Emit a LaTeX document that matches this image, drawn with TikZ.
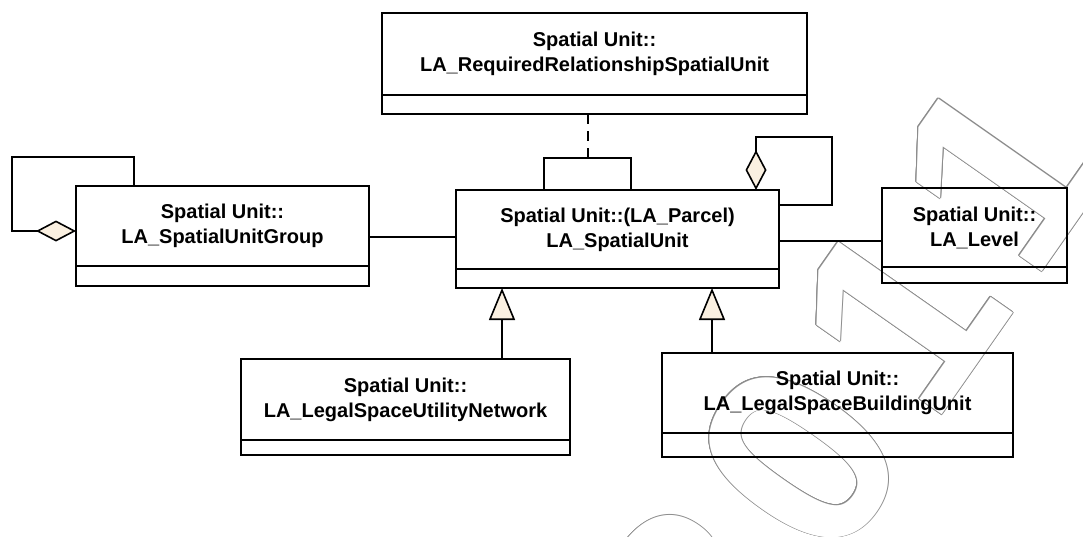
\documentclass[tikz,border=0pt]{standalone}
\usepackage{fontspec}
\setmainfont{Liberation Sans}
\usetikzlibrary{arrows.meta}

\definecolor{tipfill}{RGB}{250,240,225}
\definecolor{wmgray}{RGB}{140,140,140}

\tikzset{
  boxline/.style={draw=black, line width=1.8pt},
  classbox/.style={boxline, rectangle, inner sep=0pt, outer sep=0pt},
  classtitle/.style={align=center, inner sep=0pt,
    font=\fontsize{20}{25}\selectfont\bfseries},
  assoc/.style={draw=black, line width=1.6pt},
  gen/.style={assoc, -{Triangle[length=32pt, width=26pt, fill=tipfill]}},
  agg/.style={assoc, -{Diamond[length=40pt, width=21pt, fill=tipfill]}},
  stampstyle/.style={inner sep=0pt, anchor=base west, rotate=55,
    font=\fontsize{267}{267}\selectfont\bfseries},
}

% name, left, top, right, divider, bottom, title
\newcommand{\umlclass}[7]{%
  \node[classbox, anchor=north west,
        minimum width={(#4-#2)*1pt}, minimum height={(#6-#3)*1pt}] (#1) at (#2,#3) {};
  \draw[boxline] (#2,#5) -- (#4,#5);
  \node[classtitle] (#1-title) at ({(#2+#4)/2},{(#3+#5)/2}) {#7};
}
\newcommand{\stampdigits}{2\kern26pt0\kern26pt1\kern26pt1}

\begin{document}
\begin{tikzpicture}[x=1pt, y=-1pt]
  \useasboundingbox (0,0) rectangle (1083,536);

  % outlined year stamp behind the diagram: grey copies ring a white core
  \begin{scope}
    \clip (0,0) rectangle (1083,536);
    \foreach \a in {0,30,...,330}
      \node[stampstyle, text=wmgray, shift={(\a:0.9pt)}] at (732,714) {\stampdigits};
    \node[stampstyle, text=white] (stamp) at (732,714) {\stampdigits};
  \end{scope}

  % classes
  \umlclass{top}{382}{13}{807}{95}{114}{Spatial Unit::\\LA\_RequiredRelationshipSpatialUnit}
  \umlclass{group}{76}{186}{369}{266}{286}{Spatial Unit::\\LA\_SpatialUnitGroup}
  \umlclass{main}{456}{190}{779}{269}{288}{Spatial Unit::(LA\_Parcel)\\LA\_SpatialUnit}
  \umlclass{level}{882}{188}{1067}{267}{283}{Spatial Unit::\\LA\_Level}
  \umlclass{util}{241}{359}{570}{440}{455}{Spatial Unit::\\LA\_LegalSpaceUtilityNetwork}
  \umlclass{build}{662}{353}{1013}{433}{457}{Spatial Unit::\\LA\_LegalSpaceBuildingUnit}

  % associations
  \draw[assoc] (group.east |- 0,237) -- (main.west |- 0,237);
  \draw[assoc] (main.east |- 0,241) -- (level.west |- 0,241);

  % association class bracket with dashed link
  \coordinate (bracket) at (588,158);
  \draw[assoc] (main.north -| 544,0) |- (631,158) -- (main.north -| 631,0);
  \draw[assoc, dash pattern=on 10pt off 7pt] (top.south -| bracket) -- (bracket);

  % self aggregations
  \draw[agg] (group.north -| 134,0) |- (12,157) |- (group.west |- 0,231);
  \draw[agg] (main.east |- 0,205) -| (832,137) -| (main.north -| 756,0);

  % generalisations
  \draw[gen] (util.north -| 502,0) -- (main.south -| 502,0);
  \draw[gen] (build.north -| 712,0) -- (main.south -| 712,0);
\end{tikzpicture}
\end{document}
